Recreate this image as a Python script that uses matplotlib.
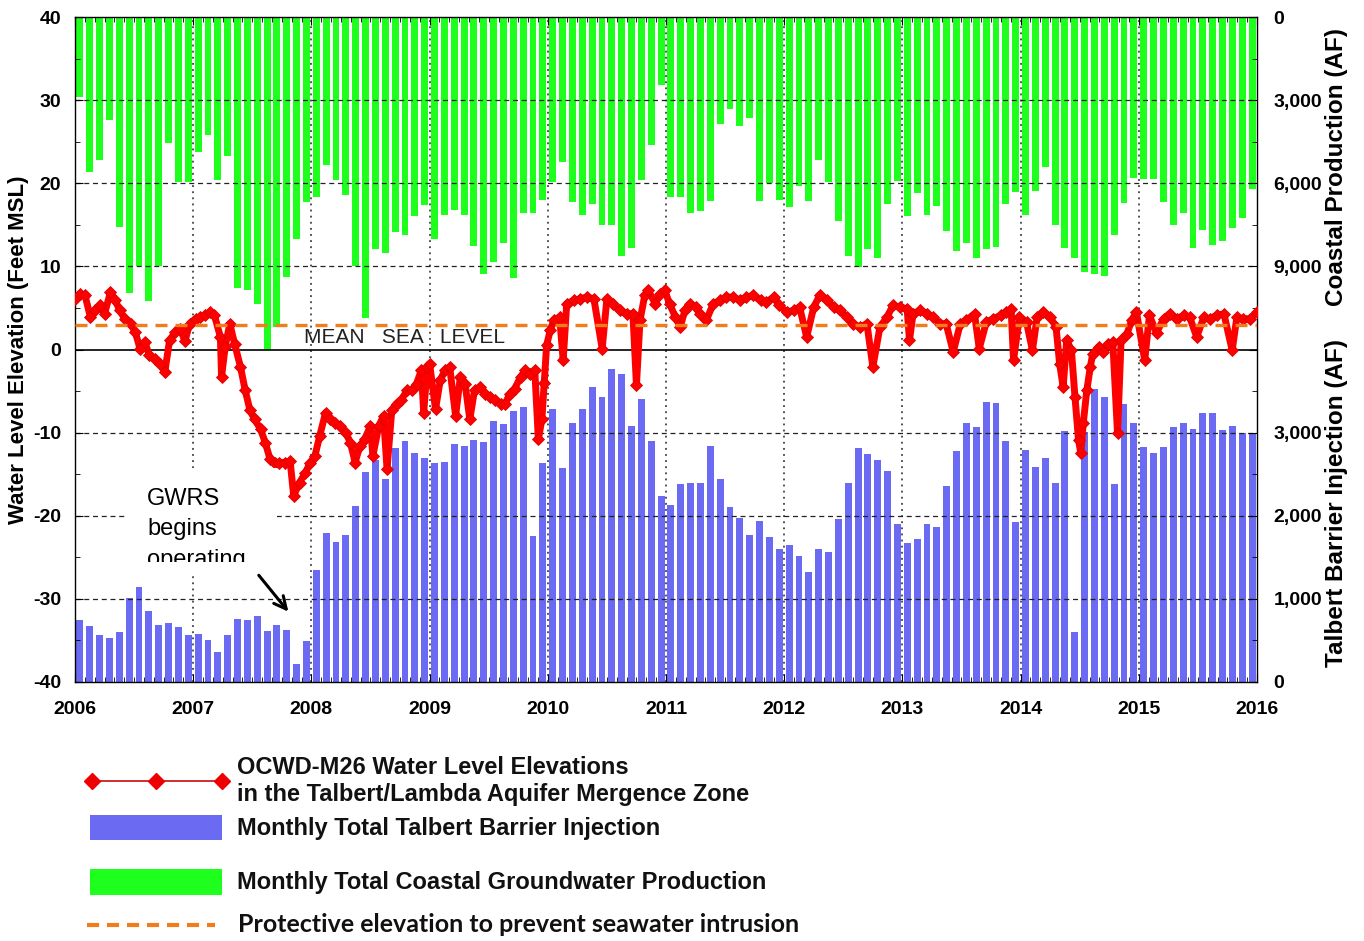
import numpy as np
import matplotlib
matplotlib.use("Agg")
import matplotlib.pyplot as plt
from matplotlib.lines import Line2D
from matplotlib.patches import Rectangle
from matplotlib.ticker import MultipleLocator, FixedLocator, StrMethodFormatter

plt.rcParams['font.family'] = ['Liberation Sans', 'DejaVu Sans']
plt.rcParams['axes.unicode_minus'] = False

# ---- monthly totals, Jan 2006 .. Dec 2015 (AF) ----
production = [
    2900, 5600, 5170, 3710, 7570, 9950, 8990, 10250, 8990, 4550, 5950, 5950,    # 2006
    4880, 4260, 5870, 5000, 9770, 9860, 10340, 12000, 11200, 9400, 8030, 6680,  # 2007
    6490, 5340, 5890, 6420, 8990, 10880, 8360, 8500, 7760, 7880, 7190, 6770,    # 2008
    8000, 7160, 6980, 7160, 8270, 9260, 8840, 8170, 9420, 7070, 7090, 6590,     # 2009
    5950, 5240, 6680, 7160, 6740, 7520, 7490, 8630, 8340, 5870, 4610, 2460,     # 2010
    6490, 6490, 7090, 7010, 6650, 3860, 3320, 3950, 3650, 6650, 5990, 6610,     # 2011
    6850, 6110, 6650, 5150, 5960, 7370, 8630, 9020, 8390, 8680, 6760, 5930,     # 2012
    7180, 6350, 7160, 6830, 7730, 8450, 8170, 8680, 8360, 8300, 6740, 6320,     # 2013
    7160, 6290, 5420, 7520, 8330, 8680, 9200, 9290, 9350, 7860, 6730, 5810,     # 2014
    5840, 5840, 6670, 7520, 7090, 8340, 7690, 8240, 8090, 7610, 7270, 6200,     # 2015
]
injection = [
    740, 670, 570, 530, 600, 1010, 1140, 860, 690, 710, 660, 570,               # 2006
    580, 500, 360, 560, 760, 750, 800, 610, 680, 620, 220, 490,                 # 2007
    1350, 1790, 1680, 1770, 2120, 2530, 2670, 2440, 2810, 2900, 2760, 2700,     # 2008
    2630, 2650, 2860, 2840, 2910, 2890, 3140, 3100, 3260, 3310, 1760, 2630,     # 2009
    3290, 2580, 3120, 3290, 3550, 3430, 3760, 3700, 3080, 3400, 2900, 2240,     # 2010
    2130, 2380, 2390, 2400, 2840, 2440, 2100, 1970, 1770, 1940, 1740, 1600,     # 2011
    1650, 1510, 1320, 1600, 1560, 1960, 2400, 2820, 2740, 2670, 2540, 1900,     # 2012
    1670, 1720, 1900, 1860, 2360, 2780, 3110, 3070, 3370, 3360, 2900, 1930,     # 2013
    2790, 2590, 2690, 2390, 3020, 600, 3010, 3520, 3430, 2380, 3340, 3110,      # 2014
    2830, 2750, 2830, 3070, 3110, 3040, 3240, 3240, 3030, 3080, 3000, 2990,     # 2015
]

# ---- OCWD-M26 water level (ft MSL) ----
wl_year = [
    2006.00, 2006.04, 2006.085, 2006.13, 2006.17, 2006.21, 2006.25, 2006.30, 2006.34, 2006.38,
    2006.42, 2006.47, 2006.51, 2006.55, 2006.59, 2006.63, 2006.68, 2006.72, 2006.76, 2006.80,
    2006.85, 2006.89, 2006.93, 2006.97, 2007.02, 2007.06, 2007.10, 2007.14, 2007.18, 2007.23,
    2007.24, 2007.27, 2007.31, 2007.35, 2007.40, 2007.44, 2007.48, 2007.52, 2007.57, 2007.61,
    2007.65, 2007.69, 2007.73, 2007.78, 2007.82, 2007.85, 2007.90, 2007.95, 2007.99, 2008.03,
    2008.07, 2008.12, 2008.16, 2008.20, 2008.24, 2008.29, 2008.33, 2008.37, 2008.41, 2008.45,
    2008.50, 2008.52, 2008.57, 2008.61, 2008.64, 2008.68, 2008.72, 2008.76, 2008.81, 2008.85,
    2008.89, 2008.93, 2008.95, 2008.98, 2009.00, 2009.05, 2009.09, 2009.13, 2009.17, 2009.22,
    2009.26, 2009.30, 2009.34, 2009.38, 2009.43, 2009.47, 2009.51, 2009.55, 2009.60, 2009.64,
    2009.68, 2009.72, 2009.77, 2009.81, 2009.85, 2009.89, 2009.92, 2009.95, 2009.97, 2009.99,
    2010.02, 2010.05, 2010.10, 2010.13, 2010.16, 2010.22, 2010.27, 2010.33, 2010.39, 2010.46,
    2010.50, 2010.55, 2010.61, 2010.67, 2010.72, 2010.75, 2010.78, 2010.82, 2010.85, 2010.91,
    2010.95, 2010.99, 2011.03, 2011.08, 2011.12, 2011.16, 2011.20, 2011.25, 2011.29, 2011.34,
    2011.40, 2011.46, 2011.51, 2011.57, 2011.63, 2011.68, 2011.74, 2011.80, 2011.85, 2011.91,
    2011.96, 2012.02, 2012.08, 2012.13, 2012.19, 2012.25, 2012.30, 2012.36, 2012.42, 2012.47,
    2012.53, 2012.58, 2012.64, 2012.70, 2012.75, 2012.81, 2012.87, 2012.92, 2012.98, 2013.04,
    2013.06, 2013.09, 2013.15, 2013.21, 2013.26, 2013.32, 2013.37, 2013.43, 2013.49, 2013.54,
    2013.61, 2013.65, 2013.71, 2013.77, 2013.83, 2013.88, 2013.92, 2013.94, 2013.99, 2014.05,
    2014.10, 2014.14, 2014.19, 2014.25, 2014.30, 2014.33, 2014.36, 2014.39, 2014.43, 2014.46,
    2014.49, 2014.51, 2014.53, 2014.56, 2014.59, 2014.61, 2014.66, 2014.70, 2014.74, 2014.78,
    2014.82, 2014.85, 2014.90, 2014.94, 2014.98, 2015.05, 2015.09, 2015.15, 2015.21, 2015.26,
    2015.32, 2015.38, 2015.43, 2015.49, 2015.55, 2015.60, 2015.66, 2015.72, 2015.79, 2015.83,
    2015.88, 2015.94, 2016.00,
]
wl_ft = [
    6.1, 6.7, 6.5, 3.9, 4.7, 5.3, 4.3, 6.9, 5.9, 4.7,
    3.7, 3.1, 2.1, 0.1, 0.9, -0.7, -1.1, -1.7, -2.7, 1.1,
    2.1, 2.5, 1.0, 3.1, 3.7, 3.9, 4.1, 4.5, 4.1, 1.5,
    -3.3, 0.3, 3.1, 0.7, -2.1, -4.9, -7.3, -8.4, -9.6, -11.2,
    -13.2, -13.6, -13.6, -13.6, -13.4, -17.6, -16.0, -14.8, -13.6, -12.8,
    -10.4, -7.6, -8.4, -8.8, -9.2, -10.0, -11.2, -13.6, -11.6, -10.8,
    -9.2, -12.8, -9.2, -8.0, -14.4, -7.3, -6.5, -6.1, -4.9, -4.9,
    -4.1, -2.5, -7.6, -2.1, -1.7, -7.2, -3.7, -2.5, -2.1, -8.0,
    -3.3, -4.1, -8.4, -4.9, -4.5, -5.3, -5.7, -6.1, -6.5, -6.5,
    -5.3, -4.7, -3.3, -2.5, -2.9, -2.5, -10.8, -8.4, -4.0, 0.5,
    2.3, 3.5, 3.9, -1.3, 5.5, 5.9, 6.1, 6.3, 6.1, 0.1,
    6.1, 5.5, 4.7, 4.3, 4.3, -4.3, 3.5, 6.5, 7.1, 5.5,
    6.7, 7.1, 5.5, 3.9, 2.7, 4.7, 5.5, 5.1, 4.3, 3.5,
    5.5, 5.9, 6.3, 6.3, 5.9, 6.3, 6.5, 5.9, 5.7, 6.3,
    5.3, 4.5, 4.7, 5.1, 1.5, 5.1, 6.5, 5.9, 5.1, 4.7,
    3.9, 3.1, 2.7, 3.1, -2.1, 2.7, 3.9, 5.3, 5.1, 4.9,
    1.1, 4.3, 4.7, 4.3, 3.9, 3.1, 3.1, -0.3, 3.1, 3.5,
    4.3, 0.1, 3.3, 3.7, 4.1, 4.5, 4.9, -1.3, 3.9, 3.3,
    -0.1, 3.9, 4.5, 3.9, 2.7, -1.7, -4.5, 1.1, -0.1, -5.7,
    -10.9, -12.5, -8.9, -4.9, -2.1, -0.5, 0.3, -0.3, 0.7, 0.9,
    -10.1, 1.1, 1.9, 3.5, 4.5, -1.3, 4.1, 2.0, 3.7, 4.3,
    3.7, 4.1, 3.9, 1.5, 3.9, 3.7, 4.1, 4.3, -0.1, 3.9,
    3.7, 3.7, 4.5,
]

years = list(range(2006, 2017))
protective_ft = 3.0

W, H = 1364, 941
fig = plt.figure(figsize=(W / 100, H / 100), dpi=100)
ax = fig.add_axes([75 / W, 1 - 682 / H, 1182 / W, 665 / H])
ax_p = ax.twinx()
ax_i = ax.twinx()
ax.set_zorder(3)
ax.patch.set_visible(False)
ax_p.set_zorder(1)
ax_i.set_zorder(2)

month_x = 2006 + (np.arange(len(production)) + 0.5) / 12
bar_w = 0.7 / 12

# production hangs from the top, injection stands on the bottom
ax_p.bar(month_x, production, width=bar_w, color='#1eff1e', edgecolor='none')
ax_p.set_ylim(24000, 0)
ax_i.bar(month_x, injection, width=bar_w, color='#6a6af2', edgecolor='none')
ax_i.set_ylim(0, 8000)

ax_p.yaxis.set_major_locator(FixedLocator([0, 3000, 6000, 9000]))
ax_i.yaxis.set_major_locator(FixedLocator([0, 1000, 2000, 3000]))
for a in (ax_p, ax_i):
    a.yaxis.set_major_formatter(StrMethodFormatter('{x:,.0f}'))
    a.tick_params(axis='y', length=0, pad=12, labelsize=14)
    for lab in a.get_yticklabels():
        lab.set_fontweight('bold')
    for s in a.spines.values():
        s.set_visible(False)

ax_p.set_ylabel('Coastal Production (AF)', fontsize=17.5, fontweight='bold')
ax_p.yaxis.set_label_coords(1.0575, 0.774)
ax_i.set_ylabel('Talbert Barrier Injection (AF)', fontsize=17.5, fontweight='bold')
ax_i.yaxis.set_label_coords(1.0575, 0.269)

# main water-level axis
ax.set_xlim(2006, 2016)
ax.set_ylim(-40, 40)
ax.set_xticks(years)
ax.xaxis.set_minor_locator(MultipleLocator(1 / 12))
ax.yaxis.set_major_locator(MultipleLocator(10))
ax.yaxis.set_minor_locator(MultipleLocator(5))
ax.tick_params(which='both', direction='in', top=True, right=True, labelright=False)
ax.tick_params(which='major', length=6, labelsize=14)
ax.tick_params(axis='y', which='major', pad=10)
ax.tick_params(axis='x', which='major', pad=14)
ax.tick_params(which='minor', length=3.5)
for lab in ax.get_xticklabels() + ax.get_yticklabels():
    lab.set_fontweight('bold')
for s in ax.spines.values():
    s.set_linewidth(1.0)

for yv in (-30, -20, -10, 10, 20, 30):
    ax.axhline(yv, color='#222222', lw=0.9, ls=(0, (4, 3)), zorder=1)
for xv in years[1:-1]:
    ax.axvline(xv, color='#222222', lw=1.1, ls=(0, (1.2, 2.8)), zorder=1)
ax.axhline(0, color='black', lw=1.2, zorder=1.5)

ax.set_ylabel('Water Level Elevation (Feet MSL)', fontsize=16, fontweight='bold')
ax.yaxis.set_label_coords(-0.0385, 0.5)

ax.plot(wl_year, wl_ft, color='#ff0000', lw=5, marker='D', ms=6.5,
        mec='#e00000', mew=0.6, zorder=4)
ax.axhline(protective_ft, color='#f07c1c', lw=2.4, dashes=(3.6, 2.4), zorder=4.5)

ax.text(2007.94, 0.3, 'MEAN   SEA   LEVEL', fontsize=15, color='#222222',
        va='bottom', ha='left', zorder=5)

# GWRS note on a white patch; a second white strip on top cuts off the last line
ax.add_patch(Rectangle((2006.44, -25.57), 1.27, 11.31, facecolor='white',
                       edgecolor='none', zorder=6))
ax.text(2006.61, -16.65, 'GWRS\nbegins\noperating', fontsize=17, va='top', ha='left',
        linespacing=1.5, zorder=7)
ax.add_patch(Rectangle((2006.44, -26.77), 1.27, 1.2, facecolor='white',
                       edgecolor='none', zorder=8))
ax.annotate('', xy=(2007.82, -31.8), xytext=(2007.54, -26.9),
            arrowprops=dict(arrowstyle='->', lw=2.2, color='black', mutation_scale=22),
            zorder=9)


# ---- legend below the plot, in figure pixels ----
def fx(x):
    return x / W


def fy(y):
    return 1 - y / H


legend_font = dict(fontsize=17, fontweight='bold', va='center', color='#111111')
fig.add_artist(Line2D([fx(92), fx(156), fx(222)], [fy(781)] * 3, color='#cc2020', lw=1.3,
                      marker='D', ms=8, mfc='#ee0000', mec='#ee0000'))
fig.text(fx(237), fy(768), 'OCWD-M26 Water Level Elevations', **legend_font)
fig.text(fx(237), fy(795), 'in the Talbert/Lambda Aquifer Mergence Zone', **legend_font)
fig.add_artist(Rectangle((fx(90), fy(840)), fx(132), 25 / H, facecolor='#6a6af2',
                         edgecolor='none', transform=fig.transFigure))
fig.text(fx(237), fy(828), 'Monthly Total Talbert Barrier Injection', **legend_font)
fig.add_artist(Rectangle((fx(90), fy(895)), fx(132), 26 / H, facecolor='#1eff1e',
                         edgecolor='none', transform=fig.transFigure))
fig.text(fx(237), fy(882), 'Monthly Total Coastal Groundwater Production', **legend_font)
fig.add_artist(Line2D([fx(87), fx(215)], [fy(925)] * 2, color='#f07c1c', lw=3,
                      dashes=(2.9, 1.9)))
fig.text(fx(238), fy(925), 'Protective elevation to prevent seawater intrusion',
         fontsize=18, fontweight='bold', va='center', color='#111111',
         family=['Lato', 'DejaVu Sans'])

fig.savefig('out.png', dpi=100, facecolor='white')
